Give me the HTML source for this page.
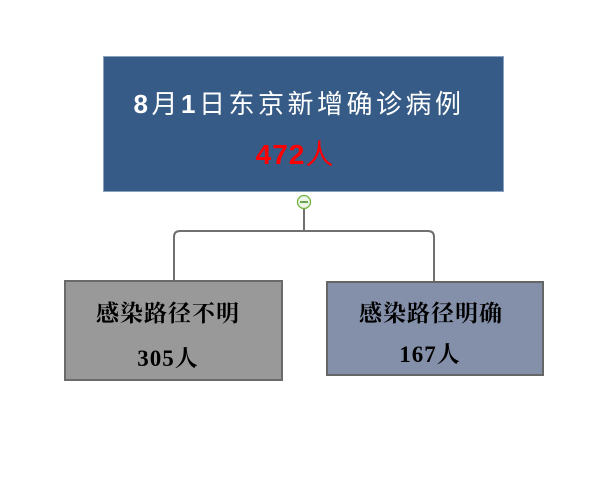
<!DOCTYPE html>
<html><head><meta charset="utf-8"><style>
body{margin:0;width:614px;height:480px;background:#fff;position:relative;overflow:hidden}
.b{position:absolute;box-sizing:border-box}
.t{position:absolute;white-space:nowrap;transform:translateX(-50%)}
.s{font:bold 23px 'Liberation Serif','Noto Serif CJK SC',serif;color:#000;letter-spacing:1px}
</style></head><body>
<div class="b" style="left:103px;top:56px;width:401px;height:136px;background:#375b87;border:1px solid #8aa0bd"></div>
<div class="t" style="left:299px;top:84px;font:bold 26px 'Liberation Sans','Noto Sans CJK SC',sans-serif;color:#fff;letter-spacing:3.5px">8<span style="font-weight:normal">月</span>1<span style="font-weight:normal">日东京新增确诊病例</span></div>
<div class="t" style="left:295px;top:133px;font:bold 28px 'Liberation Sans','Noto Sans CJK SC',sans-serif;color:#f00;letter-spacing:1px">472<span style="font-weight:normal">人</span></div>
<svg width="614" height="480" style="position:absolute;left:0;top:0">
<path d="M304 208 V231 M174 280 V237 Q174 231 180 231 H428 Q434 231 434 237 V281" fill="none" stroke="#707070" stroke-width="2"/>
<circle cx="304" cy="202" r="6.5" fill="#eef5e8" stroke="#6cb33f" stroke-width="1.3"/>
<line x1="300" y1="202" x2="308" y2="202" stroke="#3a8a1a" stroke-width="1.5"/>
</svg>
<div class="b" style="left:64px;top:280px;width:219px;height:101px;background:#999;border:2px solid #6a6a6a"></div>
<div class="t s" style="left:168px;top:295px">感染路径不明</div>
<div class="t s" style="left:168px;top:340px">305人</div>
<div class="b" style="left:326px;top:281px;width:218px;height:95px;background:#8490a9;border:2px solid #666"></div>
<div class="t s" style="left:431px;top:295px">感染路径明确</div>
<div class="t s" style="left:430px;top:336px">167人</div>
</body></html>
